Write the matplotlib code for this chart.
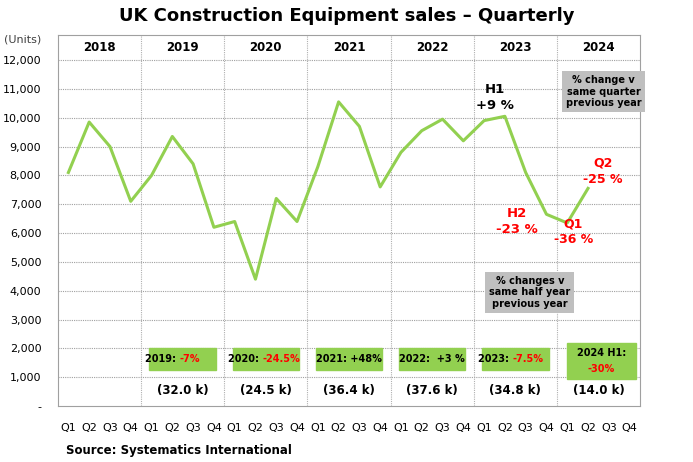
import matplotlib
matplotlib.use("Agg")
import matplotlib.pyplot as plt

years = ["2018", "2019", "2020", "2021", "2022", "2023", "2024"]
quarters = ["Q1", "Q2", "Q3", "Q4"]
sales = [8100, 9850, 9000, 7100,
         8000, 9350, 8400, 6200,
         6400, 4400, 7200, 6400,
         8300, 10550, 9700, 7600,
         8800, 9550, 9950, 9200,
         9900, 10050, 8100, 6650,
         6350, 7550]
yticks = [0, 1000, 2000, 3000, 4000, 5000, 6000, 7000, 8000, 9000, 10000, 11000, 12000]
box_labels = [("2019:", "-7%", "red"), ("2020:", "-24.5%", "red"), ("2021: +48%", "", "black"),
              ("2022:  +3 %", "", "black"), ("2023:", "-7.5%", "red")]
totals = ["(32.0 k)", "(24.5 k)", "(36.4 k)", "(37.6 k)", "(34.8 k)", "(14.0 k)"]

fig = plt.figure(figsize=(6.93, 4.62), dpi=100)
ax = fig.add_axes([58/693, 1-406/462, 582/693, 371/462])
YMAX = 12870
ax.set_xlim(-0.5, 27.5)
ax.set_ylim(0, YMAX)
x = list(range(len(sales)))
ax.plot(x, sales, color="#92d050", lw=2.2, zorder=3)

ax.set_yticks(yticks)
ax.set_yticklabels(["-"] + [f"{v:,}" for v in yticks[1:]], fontsize=8)
for v in yticks[1:]:
    ax.axhline(v, color="#a0a0a0", lw=0.8, ls=(0, (1, 1)), zorder=1)
ax.set_xticks(range(28))
ax.set_xticklabels(quarters * 7, fontsize=8)
ax.tick_params(length=0, pad=12)
for i in range(1, 7):
    ax.axvline(i*4 - 0.5, color="#b0b0b0", lw=0.8, ls=(0, (1, 1)), zorder=1)
for s in ax.spines.values():
    s.set_color("#a0a0a0")
for i, y in enumerate(years):
    ax.text(i*4 + 1.5, 12420, y, ha="center", va="center", fontsize=8.5, fontweight="bold")
ax.text(-0.06, 1.0, "(Units)", transform=ax.transAxes, fontsize=8, ha="center", va="top", color="#404040")

green = "#92d050"
for i, (a, b, c) in enumerate(box_labels):
    cx = (i+1)*4 + 1.5
    ax.add_patch(plt.Rectangle((cx-1.6, 1250), 3.2, 750, color=green, zorder=2))
    if b:
        ax.text(cx-0.15, 1620, a + " ", ha="right", va="center", fontsize=7, fontweight="bold", zorder=4)
        ax.text(cx-0.15, 1620, b, ha="left", va="center", fontsize=7, fontweight="bold", color="red", zorder=4)
    else:
        ax.text(cx, 1620, a, ha="center", va="center", fontsize=7, fontweight="bold", zorder=4)
ax.add_patch(plt.Rectangle((24.0, 950), 3.3, 1250, color=green, zorder=2))
ax.text(25.65, 1850, "2024 H1:", ha="center", va="center", fontsize=7, fontweight="bold", zorder=4)
ax.text(25.65, 1300, "-30%", ha="center", va="center", fontsize=7, fontweight="bold", color="red", zorder=4)
for i, t in enumerate(totals):
    ax.text((i+1)*4 + 1.5, 550, t, ha="center", va="center", fontsize=8.5, fontweight="bold")

ax.text(25.75, 10900, "% change v\nsame quarter\nprevious year", ha="center", va="center", fontsize=7,
        fontweight="bold", bbox=dict(boxstyle="square,pad=0.4", fc="#bfbfbf", ec="none"))
ax.text(22.2, 3950, "% changes v\nsame half year\nprevious year", ha="center", va="center", fontsize=7,
        fontweight="bold", bbox=dict(boxstyle="square,pad=0.4", fc="#bfbfbf", ec="none"))
ax.text(20.5, 10700, "H1\n+9 %", ha="center", va="center", fontsize=9.5, fontweight="bold", linespacing=1.3)
ax.text(21.6, 6400, "H2\n-23 %", ha="center", va="center", fontsize=9.5, fontweight="bold", color="red", linespacing=1.3)
ax.text(24.3, 6050, "Q1\n-36 %", ha="center", va="center", fontsize=9, fontweight="bold", color="red", linespacing=1.3)
ax.text(25.7, 8150, "Q2\n-25 %", ha="center", va="center", fontsize=9, fontweight="bold", color="red", linespacing=1.3)

fig.text(0.5, 0.965, "UK Construction Equipment sales \u2013 Quarterly", ha="center", va="center",
         fontsize=13, fontweight="bold")
fig.text(0.095, 0.025, "Source: Systematics International", ha="left", va="center", fontsize=8.5, fontweight="bold")
fig.savefig("out.png", dpi=100)
